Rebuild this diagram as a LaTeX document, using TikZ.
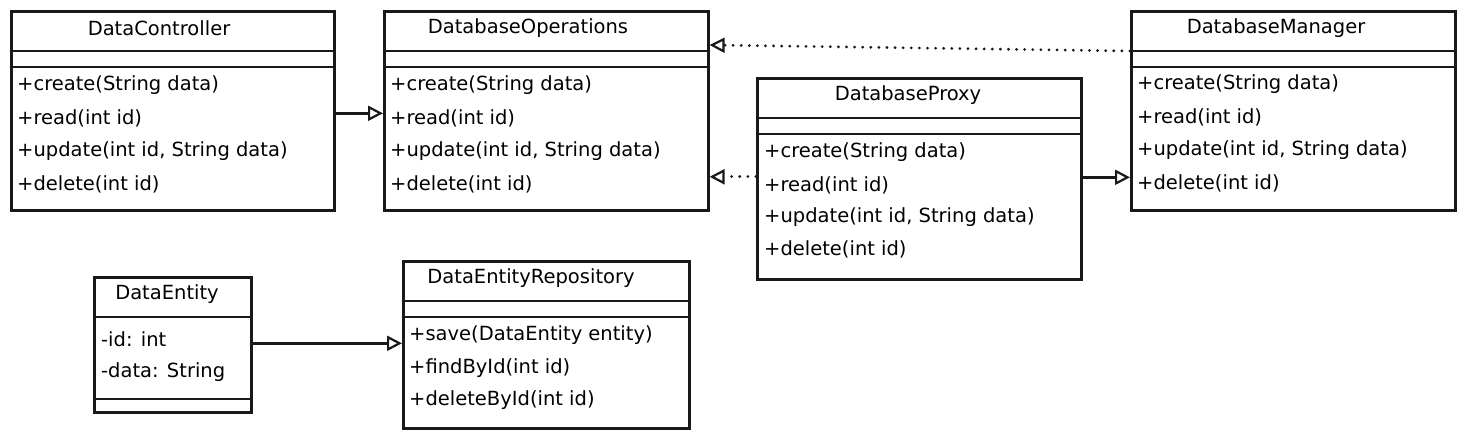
\documentclass[tikz,border=0pt]{standalone}
\usepackage{fontspec}
\setmainfont{DejaVu Sans}
\usetikzlibrary{arrows.meta,calc}
\tikzset{
  classbox/.style={draw=black!90, line width=2.6pt, anchor=north west, inner sep=0pt},
  divline/.style={draw=black!90, line width=2pt},
  ttl/.style={anchor=center, inner sep=0pt, font=\fontsize{19.5}{22}\selectfont},
  mem/.style={anchor=west, inner sep=0pt, font=\fontsize{19.5}{22}\selectfont},
  gen/.style={draw=black!90, line width=2.6pt, -{Triangle[open, length=15pt, width=15pt, line width=2.2pt]}},
  real/.style={draw=black!90, line width=3pt, line cap=round, dash pattern=on 0.1pt off 8pt, -{Triangle[open, length=15pt, width=15pt, line width=2.2pt]}}
}
\begin{document}
\begin{tikzpicture}[x=1pt, y=-1pt]
\useasboundingbox[fill=white] (0,0) rectangle (1463,437);

% DataController
\node[classbox, minimum width=323pt, minimum height=199pt] (dc) at (10,10) {};
\draw[divline] (10,51) -- (333,51);
\draw[divline] (10,67) -- (333,67);
\node[ttl] (dct) at (159,28) {DataController};
\node[mem] (dc1) at (17,85) {+create(String data)};
\node[mem] (dc2) at (17,118) {+read(int id)};
\node[mem] (dc3) at (17,151) {+update(int id, String data)};
\node[mem] (dc4) at (17,184) {+delete(int id)};

% DatabaseOperations
\node[classbox, minimum width=324pt, minimum height=199pt] (do) at (383,10) {};
\draw[divline] (383,51) -- (707,51);
\draw[divline] (383,67) -- (707,67);
\node[ttl] (dot) at (528,28) {DatabaseOperations};
\node[mem] (do1) at (390,85) {+create(String data)};
\node[mem] (do2) at (390,118) {+read(int id)};
\node[mem] (do3) at (390,151) {+update(int id, String data)};
\node[mem] (do4) at (390,184) {+delete(int id)};

% DatabaseProxy
\node[classbox, minimum width=324pt, minimum height=201pt] (dp) at (756,77) {};
\draw[divline] (756,118) -- (1080,118);
\draw[divline] (756,134) -- (1080,134);
\node[ttl] (dpt) at (908,95) {DatabaseProxy};
\node[mem] (dp1) at (764,152) {+create(String data)};
\node[mem] (dp2) at (764,185) {+read(int id)};
\node[mem] (dp3) at (764,217) {+update(int id, String data)};
\node[mem] (dp4) at (764,249) {+delete(int id)};

% DatabaseManager
\node[classbox, minimum width=324pt, minimum height=199pt] (dm) at (1130,10) {};
\draw[divline] (1130,51) -- (1454,51);
\draw[divline] (1130,67) -- (1454,67);
\node[ttl] (dmt) at (1276,28) {DatabaseManager};
\node[mem] (dm1) at (1137,84) {+create(String data)};
\node[mem] (dm2) at (1137,117) {+read(int id)};
\node[mem] (dm3) at (1137,150) {+update(int id, String data)};
\node[mem] (dm4) at (1137,183) {+delete(int id)};

% DataEntity
\node[classbox, minimum width=157pt, minimum height=135pt] (de) at (93,276) {};
\draw[divline] (93,317) -- (250,317);
\draw[divline] (93,399) -- (250,399);
\node[ttl] (det) at (167,294) {DataEntity};
\node[mem] (de1) at (101,339) {-id: int};
\node[mem] (de2) at (101,372) {-data: String};

% DataEntityRepository
\node[classbox, minimum width=286pt, minimum height=167pt] (der) at (402,260) {};
\draw[divline] (402,301) -- (688,301);
\draw[divline] (402,317) -- (688,317);
\node[ttl] (dert) at (531,278) {DataEntityRepository};
\node[mem] (der1) at (409,335) {+save(DataEntity entity)};
\node[mem] (der2) at (409,368) {+findById(int id)};
\node[mem] (der3) at (409,400) {+deleteById(int id)};

% connectors
\draw[gen] ($(dc.east)+(0,2.5)$) -- ($(dc.east -| do.west)+(0,2.5)$);
\draw[real] ($(dm.north west)+(0,41)$) -- ($(do.north east)+(0,35)$);
\draw[real] ($(dp.west)+(0,-2)$) -- ($(dp.west -| do.east)+(0,-2)$);
\draw[gen] ($(dp.east)+(0,-1.5)$) -- ($(dp.east -| dm.west)+(0,-1.5)$);
\draw[gen] ($(de.east)+(0,-1.5)$) -- ($(de.east -| der.west)+(0,-1.5)$);
\end{tikzpicture}
\end{document}
